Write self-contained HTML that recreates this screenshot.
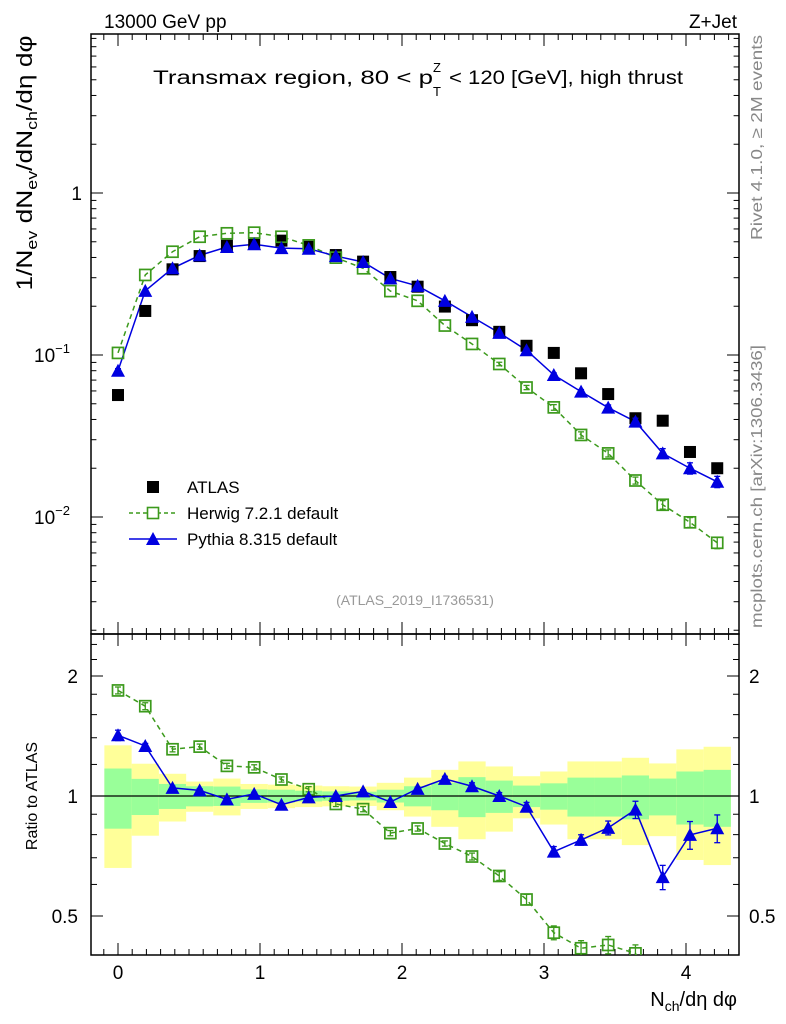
<!DOCTYPE html>
<html><head><meta charset="utf-8"><style>
html,body{margin:0;padding:0;background:#fff;}
svg{display:block;font-family:"Liberation Sans",sans-serif;}
</style></head><body>
<svg id="chart" width="786" height="1024" viewBox="0 0 786 1024" xmlns="http://www.w3.org/2000/svg">
<rect x="0" y="0" width="786" height="1024" fill="#fff"/>
<defs>
<clipPath id="clipMain"><rect x="91" y="34" width="648" height="600"/></clipPath>
<clipPath id="clipRatio"><rect x="91" y="634" width="648" height="321"/></clipPath>
</defs>
<g id="bands" clip-path="url(#clipRatio)"></g>
<g id="axes"></g>
<g id="series-main" clip-path="url(#clipMain)"></g>
<g id="series-ratio" clip-path="url(#clipRatio)"></g>
<text x="104" y="28" font-size="19">13000 GeV pp</text>
<text x="737" y="28" font-size="19" text-anchor="end">Z+Jet</text>
<g font-size="19">
<text x="153" y="84" textLength="280" lengthAdjust="spacingAndGlyphs">Transmax region, 80 &lt; p</text>
<text x="433" y="72" font-size="13">Z</text>
<text x="433" y="96" font-size="13">T</text>
<text x="449" y="84" textLength="234" lengthAdjust="spacingAndGlyphs">&lt; 120 [GeV], high thrust</text>
</g>
<text transform="translate(32,163) rotate(-90)" text-anchor="middle" font-size="22" textLength="255" lengthAdjust="spacingAndGlyphs">1/N<tspan font-size="15" dy="5">ev</tspan><tspan dy="-5"> dN</tspan><tspan font-size="15" dy="5">ev</tspan><tspan dy="-5">/dN</tspan><tspan font-size="15" dy="5">ch</tspan><tspan dy="-5">/dη dφ</tspan></text>
<text transform="translate(37,796) rotate(-90)" text-anchor="middle" font-size="16">Ratio to ATLAS</text>
<text x="737" y="1006" text-anchor="end" font-size="20">N<tspan font-size="14" dy="5">ch</tspan><tspan dy="-5">/dη dφ</tspan></text>
<text transform="translate(762,35) rotate(-90)" text-anchor="end" font-size="16" fill="#888" textLength="205" lengthAdjust="spacingAndGlyphs">Rivet 4.1.0, ≥ 2M events</text>
<text transform="translate(762,345) rotate(-90)" text-anchor="end" font-size="16" fill="#888" textLength="283" lengthAdjust="spacingAndGlyphs">mcplots.cern.ch [arXiv:1306.3436]</text>
<text x="415" y="605" text-anchor="middle" font-size="14" fill="#999">(ATLAS_2019_I1736531)</text>
<g font-size="17">
<rect x="147" y="481" width="12" height="12" fill="#000"/>
<text x="187" y="493">ATLAS</text>
<line x1="129" y1="513" x2="177" y2="513" stroke="#3c9a1c" stroke-width="1.5" stroke-dasharray="4,3"/>
<rect x="147.5" y="507.5" width="11" height="11" fill="#fff" stroke="#3c9a1c" stroke-width="1.6"/>
<text x="187" y="519">Herwig 7.2.1 default</text>
<line x1="129" y1="539" x2="177" y2="539" stroke="#0000e0" stroke-width="1.5"/>
<polygon points="153,532 160,545 146,545" fill="#0000e0"/>
<text x="187" y="545">Pythia 8.315 default</text>
</g>
</svg>
<script>
const xVals = [0,0.192,0.384,0.575,0.767,0.959,1.151,1.343,1.534,1.726,1.918,2.11,2.302,2.493,2.685,2.877,3.069,3.261,3.452,3.644,3.836,4.028,4.22];
const atlasVals = [0.0566,0.187,0.338,0.408,0.473,0.489,0.508,0.466,0.414,0.377,0.303,0.264,0.199,0.164,0.139,0.114,0.103,0.0771,0.0574,0.0407,0.0393,0.0252,0.0200];
const herwigVals = [0.103,0.312,0.434,0.537,0.564,0.569,0.537,0.475,0.399,0.343,0.248,0.216,0.152,0.117,0.088,0.063,0.0475,0.0321,0.0247,0.0168,0.0119,0.00927,0.00693];
const pythiaVals = [0.080,0.249,0.343,0.412,0.464,0.483,0.457,0.453,0.408,0.375,0.297,0.267,0.216,0.172,0.137,0.107,0.0753,0.0594,0.0473,0.0388,0.0247,0.020,0.0165];
const herwigRatio = [1.84,1.68,1.31,1.33,1.19,1.18,1.10,1.04,0.955,0.927,0.807,0.829,0.76,0.705,0.63,0.55,0.454,0.415,0.423,0.403,0.30,0.37,0.35];
const pythiaRatio = [1.42,1.335,1.048,1.033,0.981,1.012,0.951,0.992,1.0,1.027,0.966,1.042,1.104,1.058,1.0,0.94,0.725,0.776,0.832,0.924,0.626,0.799,0.83];
const herwigRelErr = [0.02,0.02,0.015,0.015,0.015,0.015,0.015,0.015,0.015,0.015,0.015,0.015,0.015,0.02,0.025,0.03,0.04,0.045,0.05,0.05,0.06,0.07,0.08];
const pythiaRelErr = [0.03,0.015,0.01,0.01,0.01,0.01,0.01,0.01,0.01,0.01,0.01,0.01,0.015,0.02,0.02,0.025,0.03,0.03,0.04,0.05,0.07,0.08,0.08];
const totalErr = [0.34,0.205,0.137,0.087,0.106,0.072,0.068,0.062,0.058,0.056,0.079,0.112,0.163,0.221,0.186,0.121,0.152,0.221,0.221,0.247,0.207,0.309,0.329];
const statErr = [0.172,0.104,0.072,0.058,0.056,0.039,0.037,0.031,0.027,0.025,0.037,0.058,0.079,0.115,0.093,0.062,0.076,0.112,0.112,0.126,0.106,0.152,0.163];
const xTicks = [0,1,2,3,4];
const mainTicks = [1,0.1,0.01];
const ratioTicks = [0.5,1,2];

const NS = "http://www.w3.org/2000/svg";
const L=91,R=739,T=34,M=634,B=955;
const X = v => 118 + v*142;
const Y = v => 193 - 162*Math.log10(v);
const RY = r => 796 - 120*Math.log2(r);
function mk(tag, attrs, parent){const e=document.createElementNS(NS,tag);for(const k in attrs)e.setAttribute(k,attrs[k]);parent.appendChild(e);return e;}
const axes=document.getElementById('axes'), bands=document.getElementById('bands');
const sm=document.getElementById('series-main'), sr=document.getElementById('series-ratio');

const hw = (xVals[1]-xVals[0])*142/2;
xVals.forEach((x,i)=>{
  let y=mk('rect',{x:X(x)-hw,y:RY(1+totalErr[i]),width:2*hw,height:RY(1-totalErr[i])-RY(1+totalErr[i]),fill:'#ffff99'},bands);
  
  
  let g=mk('rect',{x:X(x)-hw,y:RY(1+statErr[i]),width:2*hw,height:RY(1-statErr[i])-RY(1+statErr[i]),fill:'#99ff99'},bands);
  
  
});
mk('line',{x1:L,x2:R,y1:RY(1),y2:RY(1),stroke:'#000','stroke-width':1.2},bands);

const f1=mk('rect',{x:L,y:T,width:R-L,height:M-T,fill:'none',stroke:'#000','stroke-width':1.5},axes);


const f2=mk('rect',{x:L,y:M,width:R-L,height:B-M,fill:'none',stroke:'#000','stroke-width':1.5},axes);



for(let k=-1;k<=43;k++){
  const v=k/10, px=X(v); if(px<L+1||px>R-1) continue;
  const major = k%10===0, len = major?12:6;
  [[T,1],[M,-1],[M,1],[B,-1]].forEach(([y0,d])=>mk('line',{x1:px,x2:px,y1:y0,y2:y0+d*len,stroke:'#000','stroke-width':1},axes));
}
xTicks.forEach(v=>{const t=mk('text',{x:X(v),y:979,'text-anchor':'middle','font-size':19},axes);t.textContent=v;
  
  });

for(let d=-3;d<=0;d++){for(let m=1;m<=9;m++){const v=m*Math.pow(10,d),py=Y(v); if(py<T+1||py>M-1) continue;
  const len=m===1?24:12;
  mk('line',{x1:L,x2:L+len/2*(m===1?1:0.9),y1:py,y2:py,stroke:'#000','stroke-width':1},axes);
  mk('line',{x1:R,x2:R-len/2*(m===1?1:0.9),y1:py,y2:py,stroke:'#000','stroke-width':1},axes);}}
mainTicks.forEach(v=>{
  const py=Y(v); let t;
  if(v===1){t=mk('text',{x:82,y:py+7,'text-anchor':'end','font-size':19},axes);t.textContent='1';}
  else{const e=Math.round(Math.log10(v));t=mk('text',{x:70,y:py+7,'text-anchor':'end','font-size':19},axes);
    t.innerHTML='10<tspan font-size="13" dy="-9">'+(e<0?'\u2212':'')+Math.abs(e)+'</tspan>';}
  
  
});

[0.4,0.5,0.6,0.7,0.8,0.9,1,1.2,1.4,1.6,1.8,2,2.2,2.4].forEach(v=>{const py=RY(v); if(py<M+1||py>B-1)return;
  const len = (v===0.5||v===1||v===2)?12:6;
  mk('line',{x1:L,x2:L+len,y1:py,y2:py,stroke:'#000','stroke-width':1},axes);
  mk('line',{x1:R,x2:R-len,y1:py,y2:py,stroke:'#000','stroke-width':1},axes);});
ratioTicks.forEach(v=>{const py=RY(v);
  const a=mk('text',{x:78,y:py+7,'text-anchor':'end','font-size':19},axes);a.textContent=v;
  
  
  const b=mk('text',{x:749,y:py+7,'font-size':19},axes);b.textContent=v;
  
  });

const GREEN='#3c9a1c', BLUE='#0000e0';
function line(parent, pts, color, dash, name){
  const p=mk('polyline',{points:pts.map(q=>q.join(',')).join(' '),fill:'none',stroke:color,'stroke-width':1.5},parent);
  if(dash)p.setAttribute('stroke-dasharray',dash);
  
  
}
function errbar(parent,px,y1,y2,color){
  if(Math.abs(y2-y1)<3)return;
  mk('line',{x1:px,x2:px,y1:y1,y2:y2,stroke:color,'stroke-width':1.3},parent);
  mk('line',{x1:px-3,x2:px+3,y1:y1,y2:y1,stroke:color,'stroke-width':1.3},parent);
  mk('line',{x1:px-3,x2:px+3,y1:y2,y2:y2,stroke:color,'stroke-width':1.3},parent);
}
function sq(parent,px,py,color,name){
  const r=mk('rect',{x:px-5.5,y:py-5.5,width:11,height:11,fill:'none',stroke:color,'stroke-width':1.7},parent);
  
  
}
function tri(parent,px,py,color,name){
  const t=mk('polygon',{points:`${px},${py-7} ${px+7},${py+6} ${px-7},${py+6}`,fill:color},parent);
  
  
}

line(sm, xVals.map((x,i)=>[X(x),Y(herwigVals[i])]), GREEN, '5,4', 'herwig-line');
line(sm, xVals.map((x,i)=>[X(x),Y(pythiaVals[i])]), BLUE, null, 'pythia-line');
xVals.forEach((x,i)=>{
  const a=mk('rect',{x:X(x)-6,y:Y(atlasVals[i])-6,width:12,height:12,fill:'#000'},sm);
  
  
});
xVals.forEach((x,i)=>{
  errbar(sm,X(x),Y(herwigVals[i]*(1+herwigRelErr[i])),Y(herwigVals[i]*(1-herwigRelErr[i])),GREEN);
  sq(sm,X(x),Y(herwigVals[i]),GREEN,'herwig-point');
});
xVals.forEach((x,i)=>{
  errbar(sm,X(x),Y(pythiaVals[i]*(1+pythiaRelErr[i])),Y(pythiaVals[i]*(1-pythiaRelErr[i])),BLUE);
  tri(sm,X(x),Y(pythiaVals[i]),BLUE,'pythia-point');
});

line(sr, xVals.map((x,i)=>[X(x),RY(herwigRatio[i])]), GREEN, '5,4', 'herwig-ratio-line');
line(sr, xVals.map((x,i)=>[X(x),RY(pythiaRatio[i])]), BLUE, null, 'pythia-ratio-line');
xVals.forEach((x,i)=>{
  errbar(sr,X(x),RY(herwigRatio[i]*(1+herwigRelErr[i])),RY(herwigRatio[i]*(1-herwigRelErr[i])),GREEN);
  sq(sr,X(x),RY(herwigRatio[i]),GREEN,'herwig-ratio-point');
});
xVals.forEach((x,i)=>{
  errbar(sr,X(x),RY(pythiaRatio[i]*(1+pythiaRelErr[i])),RY(pythiaRatio[i]*(1-pythiaRelErr[i])),BLUE);
  tri(sr,X(x),RY(pythiaRatio[i]),BLUE,'pythia-ratio-point');
});
</script>
</body></html>
